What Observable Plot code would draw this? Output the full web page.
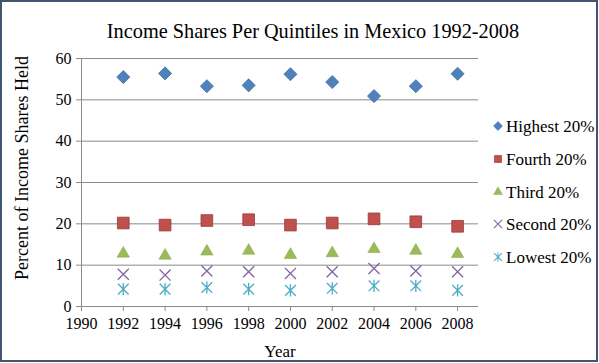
<!DOCTYPE html>
<html><head><meta charset="utf-8">
<script src="https://cdn.jsdelivr.net/npm/d3@7"></script>
<script src="https://cdn.jsdelivr.net/npm/@observablehq/plot@0.6"></script>
<style>
body{margin:0;background:#fff}
svg{display:block}
svg text{font-family:"Liberation Serif","Times New Roman",serif !important;}
</style>
</head><body><div id="chart"></div>
<script>
const years = [1992, 1994, 1996, 1998, 2000, 2002, 2004, 2006, 2008];
const highest = [55.5, 56.4, 53.3, 53.5, 56.2, 54.3, 50.9, 53.3, 56.3];
const fourth = [20.2, 19.7, 20.8, 21.0, 19.7, 20.2, 21.2, 20.5, 19.4];
const third = [12.8, 12.3, 13.3, 13.5, 12.5, 12.9, 13.9, 13.5, 12.7];
const second = [7.8, 7.6, 8.6, 8.4, 8.0, 8.4, 9.2, 8.6, 8.4];
const lowest = [4.2, 4.2, 4.6, 4.2, 3.9, 4.4, 5.0, 5.0, 3.9];
const seriesNames = ["Highest 20%", "Fourth 20%", "Third 20%", "Second 20%", "Lowest 20%"];
const xTicks = [1990, 1992, 1994, 1996, 1998, 2000, 2002, 2004, 2006, 2008];
const yTicks = [0, 10, 20, 30, 40, 50, 60];
const gridTicks = [10, 20, 30, 40, 50, 60];
const title = "Income Shares Per Quintiles in Mexico 1992-2008";
const xLabel = "Year";
const yLabel = "Percent of Income Shares Held";

const FONT = "'Liberation Serif', 'Times New Roman', serif";

// Excel-style asterisk: an X plus a vertical bar
const excelAsterisk = {
  draw(ctx, size) {
    const r = Math.sqrt(size) * 0.5;
    ctx.moveTo(-r, -r); ctx.lineTo(r, r);
    ctx.moveTo(-r, r); ctx.lineTo(r, -r);
    ctx.moveTo(0, -r * 1.15); ctx.lineTo(0, r * 1.15);
  }
};

const seriesValues = [highest, fourth, third, second, lowest];
const styles = [
  {symbol: "diamond2", type: d3.symbolDiamond2, fill: "#4f81bd", stroke: "#41709f", r: 5.9, sw: 0.8, lr: 4.0},
  {symbol: "square", type: d3.symbolSquare, fill: "#c0504d", stroke: "#9c3a37", r: 6.6, sw: 0.8, lr: 4.0},
  {symbol: "triangle", type: d3.symbolTriangle, fill: "#9bbb59", stroke: "#86a44a", r: 4.6, sw: 0.5, lr: 3.3},
  {symbol: "times", type: d3.symbolTimes, fill: "none", stroke: "#8064a2", r: 5.1, sw: 1.3, lr: 3.8},
  {symbol: excelAsterisk, type: excelAsterisk, fill: "none", stroke: "#4bacc6", r: 6.0, sw: 1.3, lr: 4.4}
];

const data = [];
seriesNames.forEach((name, i) => {
  years.forEach((yr, j) => data.push({series: name, year: yr, value: seriesValues[i][j], idx: i}));
});

const W = 599, H = 363;
const plot = Plot.plot({
  width: W, height: H,
  marginLeft: 81, marginRight: 121, marginTop: 58, marginBottom: 57,
  style: {fontFamily: FONT, fontSize: "16px", color: "#000", background: "#fff"},
  x: {domain: [1990, 2009], ticks: xTicks},
  y: {domain: [0, 60], ticks: yTicks},
  marks: [
    Plot.gridY(gridTicks, {stroke: "#8a8a8a", strokeOpacity: 1, strokeWidth: 1}),
    Plot.ruleX([1990], {stroke: "#8a8a8a"}),
    Plot.ruleY([0], {stroke: "#8a8a8a"}),
    Plot.axisY({ticks: yTicks, tickSize: 5, tickPadding: 5, label: null, stroke: "#8a8a8a", fontSize: 16}),
    Plot.axisX({ticks: xTicks, tickSize: 5, tickPadding: 6, tickFormat: d => String(d), label: null, stroke: "#8a8a8a", fontSize: 16}),
    ...styles.map((s, i) => Plot.dot(data.filter(d => d.idx === i), {
      x: "year", y: "value", symbol: s.symbol, r: s.r,
      fill: s.fill, stroke: s.stroke, strokeWidth: s.sw
    }))
  ]
});

const svg = d3.select(plot);
// border
svg.append("rect").attr("x", 1).attr("y", 1).attr("width", W - 3).attr("height", H - 3)
  .attr("fill", "none").attr("stroke", "#3f5570").attr("stroke-width", 2);
// title
svg.append("text").attr("x", 313).attr("y", 38).attr("text-anchor", "middle")
  .attr("font-size", 20.3).attr("fill", "#000").text(title);
// axis titles
svg.append("text").attr("x", 280).attr("y", 357).attr("text-anchor", "middle")
  .attr("font-size", 17).attr("fill", "#000").text(xLabel);
svg.append("text").attr("transform", "translate(28,168) rotate(-90)").attr("text-anchor", "middle")
  .attr("font-size", 18).attr("fill", "#000").text(yLabel);
// legend
const legendY = [126, 159, 192, 224, 257];
seriesNames.forEach((name, i) => {
  const s = styles[i];
  svg.append("path")
    .attr("transform", `translate(498,${legendY[i]})`)
    .attr("d", d3.symbol(s.type, Math.PI * s.lr * s.lr)())
    .attr("fill", s.fill).attr("stroke", s.stroke).attr("stroke-width", s.sw * 0.8);
  svg.append("text").attr("x", 506).attr("y", legendY[i] + 5.5).attr("text-anchor", "start")
    .attr("font-size", 17).attr("fill", "#000").text(name);
});

document.getElementById("chart").appendChild(plot);
</script>
</body></html>
